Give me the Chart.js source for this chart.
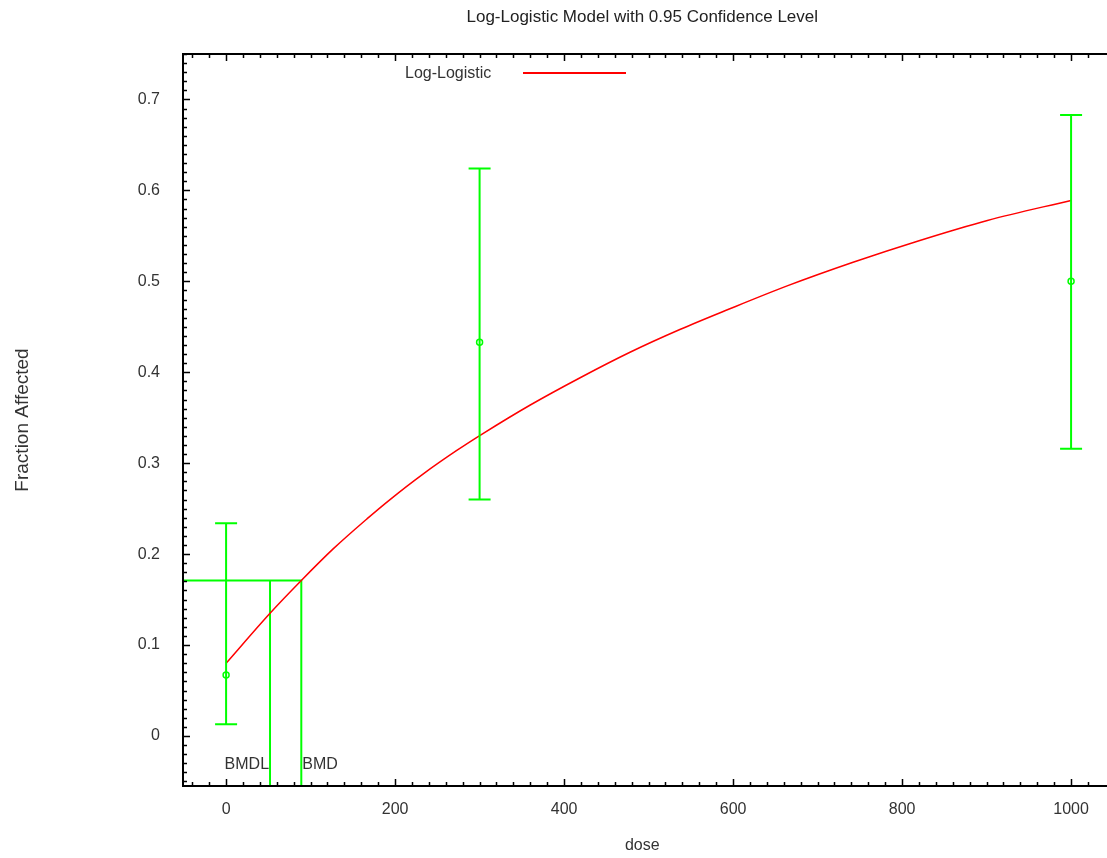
<!DOCTYPE html>
<html>
<head>
<meta charset="utf-8">
<script src="https://cdn.jsdelivr.net/npm/chart.js@4.4.0/dist/chart.umd.min.js"></script>
<style>
html, body { margin: 0; padding: 0; background: #fff; overflow: hidden; }
</style>
</head>
<body>
<canvas id="chart" width="1107" height="858"></canvas>
<script>
// observed dose groups with 95% confidence limits
var doses = [0, 300, 1000];
var means = [0.067, 0.433, 0.5];
var lower = [0.013, 0.26, 0.316];
var upper = [0.234, 0.624, 0.683];

// fitted log-logistic curve
var curveDose = [0, 52, 89, 127, 167, 194, 233, 273, 303, 360, 419, 478, 537, 594, 664, 742, 821, 901, 1000];
var curveFrac = [0.080, 0.135, 0.171, 0.206, 0.239, 0.260, 0.288, 0.314, 0.332, 0.364, 0.394, 0.422, 0.447, 0.469, 0.495, 0.521, 0.545, 0.567, 0.589];

// benchmark response / dose
var bmr = 0.171;
var bmdl = 52;
var bmd = 89;

var xTicks = [0, 200, 400, 600, 800, 1000];
var yTicks = [0, 0.1, 0.2, 0.3, 0.4, 0.5, 0.6, 0.7];

var xMin = -51, xMax = 1036, yMin = -0.055, yMax = 0.75;
var green = '#00ff00';
var textColor = '#333';
var fontFam = 'Arial, "Liberation Sans", sans-serif';

var curveData = curveDose.map(function(d, i) { return {x: d, y: curveFrac[i]}; });
var meanData = doses.map(function(d, i) { return {x: d, y: means[i]}; });

// error bars drawn through the scales
var errorBars = {
    id: 'errorBars',
    afterDatasetsDraw: function(chart) {
        var x = chart.scales.x, y = chart.scales.y, ctx = chart.ctx;
        ctx.save();
        ctx.strokeStyle = green;
        ctx.lineWidth = 2;
        doses.forEach(function(d, i) {
            var px = x.getPixelForValue(d);
            var top = y.getPixelForValue(upper[i]);
            var bot = y.getPixelForValue(lower[i]);
            ctx.beginPath();
            ctx.moveTo(px, top); ctx.lineTo(px, bot);
            ctx.moveTo(px - 11, top); ctx.lineTo(px + 11, top);
            ctx.moveTo(px - 11, bot); ctx.lineTo(px + 11, bot);
            ctx.stroke();
        });
        ctx.restore();
    }
};

// box frame with inward major/minor ticks (left, top, bottom)
var frame = {
    id: 'frame',
    afterDraw: function(chart) {
        var a = chart.chartArea, x = chart.scales.x, y = chart.scales.y, ctx = chart.ctx;
        ctx.save();
        ctx.strokeStyle = '#000';
        ctx.lineWidth = 2;
        ctx.beginPath();
        ctx.moveTo(a.right + 10, a.top); ctx.lineTo(a.left, a.top);
        ctx.lineTo(a.left, a.bottom); ctx.lineTo(a.right + 10, a.bottom);
        ctx.stroke();
        ctx.lineWidth = 1.5;
        ctx.beginPath();
        for (var i = -2; i <= 52; i++) {
            var v = i * 20;
            if (v < xMin || v > xMax) continue;
            var len = (v % 200 === 0) ? 7 : 4;
            var px = Math.round(x.getPixelForValue(v)) + 0.5;
            ctx.moveTo(px, a.bottom); ctx.lineTo(px, a.bottom - len);
            ctx.moveTo(px, a.top); ctx.lineTo(px, a.top + len);
        }
        for (var j = -5; j <= 75; j++) {
            var vy = j / 100;
            var leny = (j % 10 === 0) ? 7 : 4;
            var py = Math.round(y.getPixelForValue(vy)) + 0.5;
            ctx.moveTo(a.left, py); ctx.lineTo(a.left + leny, py);
        }
        ctx.stroke();
        ctx.restore();
    }
};

// BMD/BMDL labels and the legend inside the plot
var labels = {
    id: 'labels',
    afterDraw: function(chart) {
        var a = chart.chartArea, x = chart.scales.x, ctx = chart.ctx;
        ctx.save();
        ctx.font = '16px ' + fontFam;
        ctx.fillStyle = textColor;
        ctx.textBaseline = 'middle';
        ctx.textAlign = 'right';
        ctx.fillText('BMDL', x.getPixelForValue(bmdl) - 1, a.bottom - 21);
        ctx.textAlign = 'left';
        ctx.fillText('BMD', x.getPixelForValue(bmd) + 1, a.bottom - 21);
        // legend
        ctx.fillText('Log-Logistic', a.left + 222, a.top + 20);
        ctx.strokeStyle = '#ff0000';
        ctx.lineWidth = 2;
        ctx.beginPath();
        ctx.moveTo(a.left + 340, a.top + 19);
        ctx.lineTo(a.left + 443, a.top + 19);
        ctx.stroke();
        ctx.restore();
    }
};

new Chart(document.getElementById('chart'), {
    type: 'line',
    data: {
        datasets: [
            {
                label: 'Log-Logistic',
                data: curveData,
                borderColor: '#ff0000',
                borderWidth: 1.5,
                pointRadius: 0,
                cubicInterpolationMode: 'monotone',
                fill: false
            },
            {
                label: 'BMD',
                data: [{x: xMin, y: bmr}, {x: bmd, y: bmr}, {x: bmd, y: yMin}],
                borderColor: green,
                borderWidth: 2,
                pointRadius: 0,
                tension: 0,
                fill: false
            },
            {
                label: 'BMDL',
                data: [{x: bmdl, y: bmr}, {x: bmdl, y: yMin}],
                borderColor: green,
                borderWidth: 2,
                pointRadius: 0,
                tension: 0,
                fill: false
            },
            {
                label: 'Observed',
                data: meanData,
                showLine: false,
                pointStyle: 'circle',
                pointRadius: 3,
                borderColor: green,
                backgroundColor: '#fff',
                pointBorderWidth: 1.5
            }
        ]
    },
    options: {
        responsive: false,
        animation: false,
        devicePixelRatio: 1,
        layout: { padding: { right: 1 } },
        plugins: {
            legend: { display: false },
            tooltip: { enabled: false },
            title: {
                display: true,
                fullSize: false,
                text: 'Log-Logistic Model with 0.95 Confidence Level',
                color: '#222',
                font: { size: 17, weight: 'normal', family: fontFam },
                padding: { top: 7, bottom: 26.6 }
            }
        },
        scales: {
            x: {
                type: 'linear',
                min: xMin,
                max: xMax,
                grid: { display: false, drawTicks: false },
                border: { display: false },
                ticks: {
                    padding: 14,
                    color: textColor,
                    font: { size: 16, family: fontFam },
                    callback: function(v) { return String(v); }
                },
                afterBuildTicks: function(s) { s.ticks = xTicks.map(function(v) { return {value: v}; }); },
                afterFit: function(s) { s.height = 72; },
                title: {
                    display: true,
                    text: 'dose',
                    color: textColor,
                    font: { size: 16, family: fontFam },
                    padding: { top: 0, bottom: 3 }
                }
            },
            y: {
                type: 'linear',
                min: yMin,
                max: yMax,
                grid: { display: false, drawTicks: false },
                border: { display: false },
                ticks: {
                    padding: 23,
                    color: textColor,
                    font: { size: 16, family: fontFam },
                    callback: function(v) { return String(Math.round(v * 10) / 10); }
                },
                afterBuildTicks: function(s) { s.ticks = yTicks.map(function(v) { return {value: v}; }); },
                afterFit: function(s) { s.width = 183; },
                title: {
                    display: true,
                    text: 'Fraction Affected',
                    color: textColor,
                    font: { size: 19, family: fontFam },
                    padding: { top: 11, bottom: 0 }
                }
            }
        }
    },
    plugins: [errorBars, frame, labels]
});
</script>
</body>
</html>
